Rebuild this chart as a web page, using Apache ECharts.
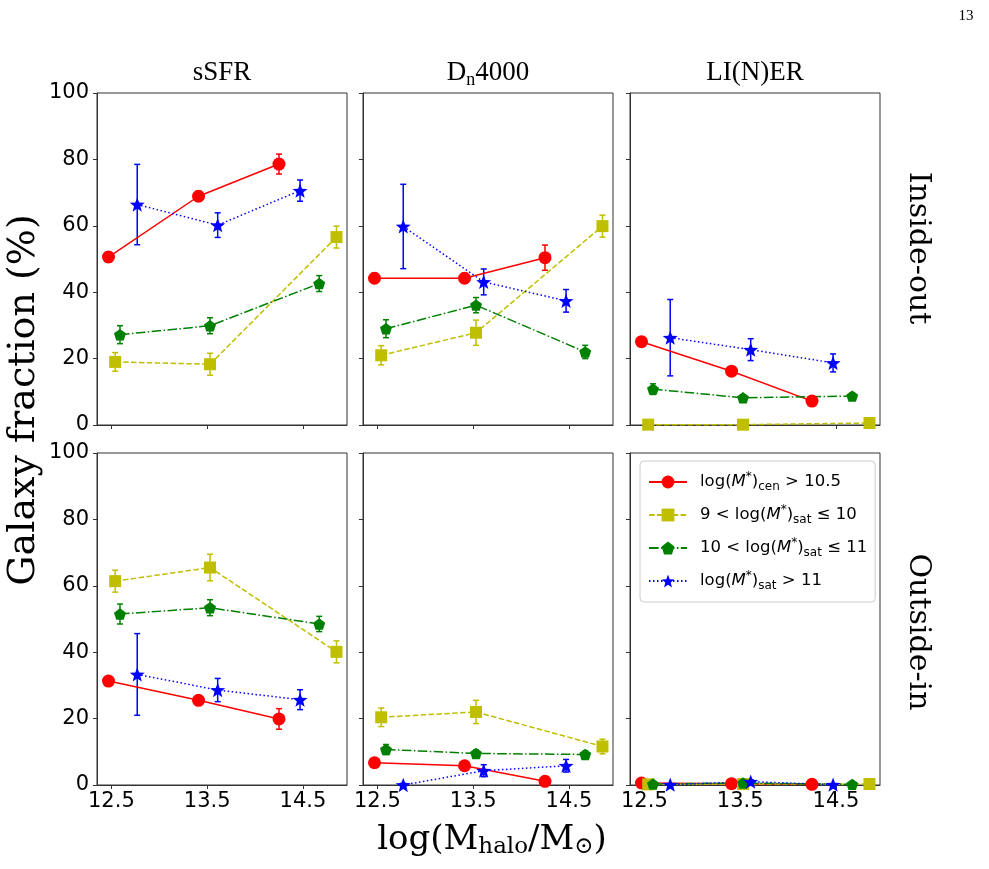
<!DOCTYPE html>
<html>
<head>
<meta charset="utf-8">
<title>Galaxy fraction vs halo mass</title>
<script src="https://cdn.jsdelivr.net/npm/echarts@6/dist/echarts.min.js"></script>
<style>
  html, body { margin: 0; padding: 0; background: #fff; }
  #main { width: 989px; height: 869px; }
</style>
</head>
<body>
<div id="main"></div>
<script>
// panel order: sSFR / Dn4000 / LI(N)ER, inside-out row then outside-in row
var colTitles = ['sSFR', 'Dn4000', 'LI(N)ER'];
var rowTitles = ['Inside-out', 'Outside-in'];
var xTicks = [12.5, 13.5, 14.5];

var seriesNames = ['cen', 'low', 'mid', 'high'];

// x positions (log Mhalo) of each sample, slightly offset in the paper
var cenX = [12.47, 13.41, 14.25];
var lowX = [12.54, 13.53, 14.85];
var midX = [12.59, 13.53, 14.67];
var highX = [12.77, 13.61, 14.47];

// log(M*)cen > 10.5
var cenY = [[50.6, 68.9, 78.6], [44.2, 44.2, 50.4], [25.1, 16.2, 7.2],
            [31.3, 25.5, 19.9], [6.7, 5.8, 1.1], [0.6, 0.4, 0.2]];
var cenErr = [[1.5, 1.5, 3.0], [1.5, 1.5, 3.8], [1.0, 1.0, 1.4],
              [1.3, 1.3, 3.1], [1.0, 1.0, 0.5], [0.3, 0.3, 0.2]];
// 9 < log(M*)sat <= 10
var lowY = [[19.0, 18.3, 56.6], [21.0, 27.8, 59.9], [0.1, 0.1, 0.6],
            [61.4, 65.5, 40.1], [20.4, 22.0, 11.6], [0.2, 0.3, 0.3]];
var lowErr = [[2.8, 3.3, 3.3], [2.9, 3.8, 3.3], [0.2, 0.2, 0.5],
              [3.3, 4.0, 3.3], [2.8, 3.5, 2.2], [0.2, 0.2, 0.3]];
// 10 < log(M*)sat <= 11
var midY = [[27.2, 29.9, 42.6], [29.0, 36.1, 22.0], [10.8, 8.2, 8.7],
            [51.5, 53.4, 48.5], [10.7, 9.5, 9.2], [0.3, 0.6, 0.2]];
var midErr = [[2.7, 2.4, 2.4], [2.7, 2.3, 2.0], [1.6, 0.9, 0.9],
              [3.0, 2.4, 2.3], [1.5, 1.0, 1.0], [0.2, 0.4, 0.2]];
// log(M*)sat > 11
var highY = [[66.4, 60.2, 70.6], [59.8, 43.1, 37.4], [26.3, 22.7, 18.7],
             [33.3, 28.6, 25.7], [0.0, 4.3, 5.8], [0.1, 1.0, 0.1]];
var highErr = [[12.1, 3.7, 3.2], [12.7, 3.9, 3.4], [11.5, 3.3, 2.7],
               [12.3, 3.5, 3.0], [0.5, 1.8, 1.9], [0.2, 0.6, 0.2]];

function polyPath(n, inner) {
    var k = inner ? 2 * n : n, pts = [];
    for (var i = 0; i < k; i++) {
        var a = -Math.PI / 2 + i * 2 * Math.PI / k;
        var r = (inner && i % 2) ? inner : 1;
        pts.push((r * Math.cos(a)).toFixed(3) + ' ' + (r * Math.sin(a)).toFixed(3));
    }
    return 'path://M' + pts.join(' L') + ' Z';
}

var styles = {
    cen:  { color: '#ff0000', symbol: 'circle', size: 13, dash: 'solid', xs: cenX, ys: cenY, es: cenErr },
    low:  { color: '#bfbf00', symbol: 'rect', size: 12, dash: [5.5, 2.4], xs: lowX, ys: lowY, es: lowErr },
    mid:  { color: '#008000', symbol: polyPath(5), size: 12, dash: [9.6, 2.4, 1.5, 2.4], xs: midX, ys: midY, es: midErr },
    high: { color: '#0000ff', symbol: polyPath(5, 0.42), size: 15, dash: [1.5, 2.5], xs: highX, ys: highY, es: highErr }
};

var legendText = {
    cen:  '{g| }{n|log(}{i|M}{sp|*}{n|)}{sb|cen}{n| > 10.5}',
    low:  '{g| }{n|9 < log(}{i|M}{sp|*}{n|)}{sb|sat}{n| ≤ 10}',
    mid:  '{g| }{n|10 < log(}{i|M}{sp|*}{n|)}{sb|sat}{n| ≤ 11}',
    high: '{g| }{n|log(}{i|M}{sp|*}{n|)}{sb|sat}{n| > 11}'
};

var colLeft = [97, 363, 630];
var rowTop = [93, 453];
var W = 250, H = 332;

var chart = echarts.init(document.getElementById('main'));

var grids = [], xAxes = [], yAxes = [], series = [];
for (var p = 0; p < 6; p++) {
    var row = Math.floor(p / 3), col = p % 3;
    grids.push({ left: colLeft[col], top: rowTop[row], width: W, height: H,
                 show: true, borderColor: '#333', borderWidth: 1, backgroundColor: 'transparent' });
    xAxes.push({
        gridIndex: p, type: 'value', min: 12.35, max: 14.96,
        axisLine: { show: true, onZero: false, lineStyle: { color: '#333', width: 1 } },
        axisTick: { show: true, customValues: xTicks, length: 4, lineStyle: { color: '#333' } },
        axisLabel: { show: row === 1, customValues: xTicks, margin: 6,
                     formatter: function (v) { return v.toFixed(1); },
                     fontFamily: 'DejaVu Sans', fontSize: 21, color: '#000' },
        splitLine: { show: false }
    });
    yAxes.push({
        gridIndex: p, type: 'value', min: 0, max: 100, interval: 20,
        axisLine: { show: true, lineStyle: { color: '#333', width: 1 } },
        axisTick: { show: true, length: 4, lineStyle: { color: '#333' } },
        axisLabel: { show: col === 0, margin: 8, fontFamily: 'DejaVu Sans', fontSize: 21, color: '#000' },
        splitLine: { show: false }
    });
    seriesNames.forEach(function (nm) {
        var s = styles[nm];
        var pts = s.xs.map(function (x, i) { return [x, s.ys[p][i]]; });
        var errs = s.xs.map(function (x, i) { return [x, s.ys[p][i], s.es[p][i]]; });
        series.push({
            type: 'custom', name: nm + '-err', xAxisIndex: p, yAxisIndex: p,
            data: errs, silent: true, z: 2,
            renderItem: (function (color) {
                return function (params, api) {
                    var x = api.value(0), y = api.value(1), e = api.value(2);
                    var t = api.coord([x, y + e]), b = api.coord([x, y - e]);
                    var c = 3;
                    var st = { stroke: color, lineWidth: 1.5 };
                    return { type: 'group', children: [
                        { type: 'line', shape: { x1: t[0], y1: t[1], x2: b[0], y2: b[1] }, style: st },
                        { type: 'line', shape: { x1: t[0] - c, y1: t[1], x2: t[0] + c, y2: t[1] }, style: st },
                        { type: 'line', shape: { x1: b[0] - c, y1: b[1], x2: b[0] + c, y2: b[1] }, style: st }
                    ] };
                };
            })(s.color)
        });
        series.push({
            type: 'line', name: nm, xAxisIndex: p, yAxisIndex: p, data: pts, z: 3,
            symbol: s.symbol, symbolSize: s.size, symbolKeepAspect: true, showSymbol: true,
            color: s.color,
            itemStyle: { color: s.color, borderWidth: 0 },
            lineStyle: { color: s.color, width: 1.5, type: s.dash },
            clip: false
        });
    });
}

var serif = 'DejaVu Serif';
var graphics = [
    { type: 'text', x: 966, y: 16, style: { text: '13', font: '15px "Liberation Serif"', fill: '#000', align: 'center', verticalAlign: 'middle' } },
    { type: 'text', x: 24, y: 400, rotation: Math.PI / 2,
      style: { text: 'Galaxy fraction (%)', font: '38px "DejaVu Serif"', fill: '#000', align: 'center', verticalAlign: 'middle' } },
    { type: 'text', x: 492, y: 840,
      style: { text: '{a|log(M}{s|halo}{a|/M}{s|⊙}{a|)}', align: 'center', verticalAlign: 'middle',
               rich: { a: { fontFamily: serif, fontSize: 34, color: '#000' },
                       s: { fontFamily: serif, fontSize: 23, color: '#000', padding: [15, 0, 0, 0] } } } }
];
var titleRich = {
    a: { fontFamily: 'Liberation Serif', fontSize: 27, color: '#000' },
    s: { fontFamily: 'Liberation Serif', fontSize: 18, color: '#000', padding: [15, 0, 0, 0] }
};
var titleTexts = ['{a|sSFR}', '{a|D}{s|n}{a|4000}', '{a|LI(N)ER}'];
colTitles.forEach(function (t, i) {
    graphics.push({ type: 'text', x: colLeft[i] + W / 2, y: 73,
        style: { text: titleTexts[i], align: 'center', verticalAlign: 'middle', rich: titleRich } });
});
var rowCenters = [248, 632];
rowTitles.forEach(function (t, i) {
    graphics.push({ type: 'text', x: 918, y: rowCenters[i], rotation: -Math.PI / 2,
        style: { text: t, font: '30px "DejaVu Serif"', fill: '#000', align: 'center', verticalAlign: 'middle' } });
});

chart.setOption({
    animation: false,
    backgroundColor: '#fff',
    grid: grids,
    xAxis: xAxes,
    yAxis: yAxes,
    legend: {
        data: seriesNames,
        orient: 'vertical',
        left: 640, top: 461,
        padding: [10, 8, 10, 8],
        itemGap: 11,
        itemWidth: 38, itemHeight: 16,
        selectedMode: false,
        backgroundColor: 'rgba(255,255,255,0.8)',
        borderColor: '#ccc', borderWidth: 1, borderRadius: 4,
        formatter: function (name) { return legendText[name]; },
        textStyle: {
            color: '#000',
            rich: {
                g: { width: 8 },
                n: { fontFamily: 'DejaVu Sans', fontSize: 16.5, color: '#000' },
                i: { fontFamily: 'DejaVu Sans', fontSize: 16.5, fontStyle: 'italic', color: '#000' },
                sp: { fontFamily: 'DejaVu Sans', fontSize: 12, color: '#000', padding: [0, 0, 10, 0] },
                sb: { fontFamily: 'DejaVu Sans', fontSize: 12, color: '#000', padding: [10, 0, 0, 0] }
            }
        }
    },
    graphic: graphics,
    series: series
});
</script>
</body>
</html>
